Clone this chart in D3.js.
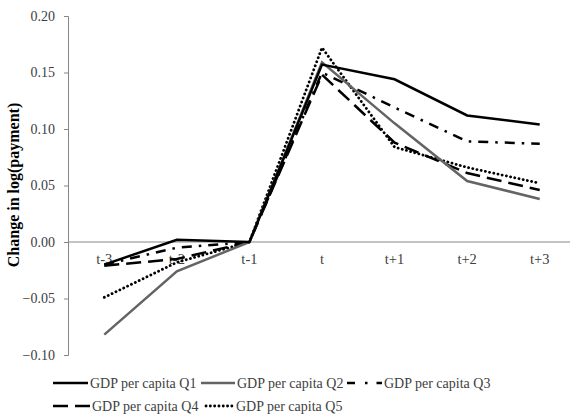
<!DOCTYPE html>
<html>
<head>
<meta charset="utf-8">
<title>GDP per capita quintiles</title>
<style>
  body { margin: 0; background: #fff; }
  svg text { font-family: "Liberation Serif", "DejaVu Serif", serif; fill: #404040; }
</style>
</head>
<body>
<div id="chart"></div>
<script src="https://cdnjs.cloudflare.com/ajax/libs/d3/7.8.5/d3.min.js"></script>
<script>
// categories (event time)
const periods = ["t-3", "t-2", "t-1", "t", "t+1", "t+2", "t+3"];

// series values
const q1 = [-0.020, 0.002, 0, 0.157, 0.144, 0.112, 0.104];
const q2 = [-0.082, -0.026, 0, 0.159, 0.105, 0.054, 0.038];
const q3 = [-0.020, -0.005, 0, 0.150, 0.119, 0.089, 0.087];
const q4 = [-0.021, -0.015, 0, 0.148, 0.088, 0.061, 0.046];
const q5 = [-0.049, -0.018, 0, 0.172, 0.084, 0.066, 0.052];

const seriesNames = ["GDP per capita Q1", "GDP per capita Q2", "GDP per capita Q3",
                     "GDP per capita Q4", "GDP per capita Q5"];
const yTicks = [-0.10, -0.05, 0.00, 0.05, 0.10, 0.15, 0.20];

const width = 570, height = 416;
const svg = d3.select("#chart").append("svg")
    .attr("width", width)
    .attr("height", height);

const x = d3.scaleBand().domain(periods).range([68, 576]);
const y = d3.scaleLinear().domain([-0.10, 0.20]).range([355, 16]);
const cx = d => x(d) + x.bandwidth() / 2;

// y axis
const yAxis = svg.append("g")
    .attr("transform", "translate(68,0)")
    .call(d3.axisLeft(y).tickValues(yTicks).tickFormat(d3.format(".2f")).tickSizeOuter(0).tickSize(4).tickPadding(9));
yAxis.select(".domain").attr("stroke", "#868686");
yAxis.selectAll(".tick line").attr("stroke", "#868686");
yAxis.selectAll(".tick text")
    .style("font-size", "14px")
    .attr("fill", "#404040");

// zero line acting as x axis
svg.append("line")
    .attr("x1", 68).attr("x2", width)
    .attr("y1", y(0)).attr("y2", y(0))
    .attr("stroke", "#868686").attr("stroke-width", 1);

svg.append("g").selectAll("text")
    .data(periods)
    .join("text")
    .attr("x", d => cx(d))
    .attr("y", y(0) + 22)
    .attr("text-anchor", "middle")
    .style("font-size", "14.5px")
    .text(d => d);

// axis title
svg.append("text")
    .attr("transform", "translate(19,185) rotate(-90)")
    .attr("text-anchor", "middle")
    .attr("font-size", 16)
    .attr("font-weight", "bold")
    .style("fill", "#000")
    .text("Change in log(payment)");

const styles = [
    { color: "#000", dash: null, cap: "butt" },
    { color: "#646464", dash: null, cap: "butt" },
    { color: "#000", dash: "10,7,2.5,7", cap: "butt" },
    { color: "#000", dash: "15,7", cap: "butt" },
    { color: "#000", dash: "0.1,4.2", cap: "round" }
];
const allSeries = [q1, q2, q3, q4, q5];

const line = d3.line()
    .x((d, i) => cx(periods[i]))
    .y(d => y(d));

// draw in reverse so Q1 ends up on top
svg.append("g").selectAll("path")
    .data(allSeries.map((v, i) => ({ v, i })).reverse())
    .join("path")
    .attr("d", d => line(d.v))
    .attr("fill", "none")
    .attr("stroke", d => styles[d.i].color)
    .attr("stroke-width", d => d.i === 4 ? 2.8 : 2.5)
    .attr("stroke-dasharray", d => styles[d.i].dash)
    .attr("stroke-linecap", d => styles[d.i].cap)
    .attr("stroke-linejoin", "miter");

// legend
const legendPos = [
    { x: 53, y: 383, len: 35 },
    { x: 201, y: 383, len: 34 },
    { x: 347, y: 383, len: 35 },
    { x: 53, y: 406, len: 37 },
    { x: 206, y: 406, len: 28 }
];
const legend = svg.append("g").selectAll("g")
    .data(seriesNames)
    .join("g")
    .attr("transform", (d, i) => `translate(${legendPos[i].x},${legendPos[i].y})`);

legend.append("line")
    .attr("x1", 0)
    .attr("x2", (d, i) => legendPos[i].len)
    .attr("y1", 0).attr("y2", 0)
    .attr("stroke", (d, i) => styles[i].color)
    .attr("stroke-width", (d, i) => i === 4 ? 2.8 : 2.5)
    .attr("stroke-dasharray", (d, i) => i === 2 ? "8,10,2.5,9,8" : styles[i].dash)
    .attr("stroke-linecap", (d, i) => styles[i].cap);

legend.append("text")
    .attr("x", (d, i) => legendPos[i].len + 2)
    .attr("y", 5)
    .attr("font-size", 14)
    .attr("fill", "#404040")
    .text(d => d);
</script>
</body>
</html>
